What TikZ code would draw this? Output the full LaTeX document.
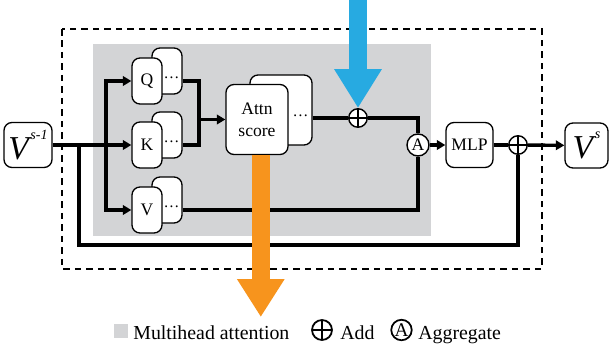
\documentclass[tikz,border=0pt]{standalone}
\usepackage{fontspec}
\setmainfont{Liberation Serif}
\usetikzlibrary{arrows.meta,positioning,calc}
\definecolor{headGray}{RGB}{211,212,214}
\definecolor{featBlue}{RGB}{39,170,225}
\definecolor{featOrange}{RGB}{247,148,29}
\newcommand{\featV}[1]{{\fontsize{19}{19}\selectfont\itshape V}\kern1pt\raisebox{11.5pt}{\fontsize{8}{8}\selectfont\itshape #1}}

\begin{document}
\begin{tikzpicture}[
    x=0.02cm, y=-0.02cm,
    box/.style={draw=black, fill=white, rounded corners=0.16cm, line width=0.75pt, align=center,
                inner sep=0pt, font=\fontsize{10}{12.5}\selectfont},
    head/.style={box, minimum width=0.6cm, minimum height=0.92cm},
    score/.style={box, minimum width=1.24cm, minimum height=1.4cm},
    io/.style={box, minimum width=0.94cm, minimum height=0.9cm},
    dots/.style={inner sep=0pt, font=\fontsize{9}{10}\selectfont},
    wire/.style={line width=0.068cm},
    flow/.style={wire, -{Triangle[length=0.17cm, width=0.19cm]}},
    addop/.style={circle, draw=black, fill=white, line width=0.8pt, minimum size=0.37cm, inner sep=0pt,
        path picture={\draw[line width=0.8pt] (path picture bounding box.north) -- (path picture bounding box.south)
                      (path picture bounding box.west) -- (path picture bounding box.east);}},
    aggop/.style={circle, draw=black, fill=white, line width=0.8pt, minimum size=0.44cm, inner sep=0pt,
                  font=\fontsize{10}{12}\selectfont},
    frame/.style={line width=0.75pt, dash pattern=on 0.13cm off 0.1cm},
    key/.style={anchor=base west, inner sep=0pt, font=\fontsize{11.3}{13}\selectfont},
    feed/.style={line width=0.36cm, -{Triangle[length=0.78cm, width=0.9cm]}},
]
\useasboundingbox (0,0) rectangle (610,352);

% block outline and multihead area
\draw[frame] (62,29) rectangle (542,269);
\fill[headGray] (93,44) rectangle (431,236);

% input / output
\node[io, minimum width=0.96cm] (vin) at (28,145) {\featV{s-1}};
\node[io, minimum width=0.86cm] (vout) at (586.5,145.5) {\featV{s}};

% Q, K, V heads (stacked)
\node[head] (qb) at (167,71) {};
\node[head] (qf) at (147,81) {Q};
\node[dots] (qdots) at (171.5,78) {…};
\node[head] (kb) at (167,135) {};
\node[head] (kf) at (147,145) {K};
\node[dots] (kdots) at (171.5,142) {…};
\node[head] (vb) at (167,200) {};
\node[head] (vf) at (147,210) {V};
\node[dots] (vdots) at (171.5,207) {…};

% attention score (stacked)
\node[score] (attnb) at (281,110) {};
\node[score] (attnf) at (257,119.5) {Attn\\score};
\node[dots] (attndots) at (300.5,116) {…};

% operators and MLP
\node[addop] (addatt) at (358,118) {};
\node[aggop] (agg) at (418,145) {A};
\node[io] (mlp) at (469.5,145) {MLP};
\node[addop] (addres) at (518,145) {};

% input fan-out
\coordinate (fork) at (106,145);
\coordinate (skip) at (79,145);
\coordinate (skipend) at (79,245);
\draw[flow] (vin) -- (kf);
\draw[flow] (fork) |- (qf);
\draw[flow] (fork) |- (vf);
\draw[wire] (skip) -- (skipend) -| (addres);

% Q, K into score
\coordinate (merge) at (199,119.5);
\draw[wire] (qb.east |- qf) -| (merge) |- (kb.east |- kf);
\draw[flow] (merge) -- (attnf.west);

% score, V into aggregate
\draw[wire] (attnb.east |- addatt) -- (addatt);
\draw[wire] (addatt) -| (agg);
\draw[wire] (vb.east |- vf) -| (agg);
\draw[flow] (agg) -- (mlp);
\draw[wire] (mlp) -- (addres);
\draw[flow] (addres) -- (vout);

% external feeds
\coordinate (cond) at (358,0);
\coordinate (sink) at (260.8,317);
\draw[feed, featBlue] (cond) -- (addatt.north);
\draw[feed, featOrange, -{Triangle[length=0.76cm, width=0.9cm]}] (sink |- attnf.south) -- (sink);

% legend
\node[fill=headGray, minimum size=0.28cm, inner sep=0pt] (keyhead) at (121,331) {};
\node[key] (keyheadtxt) at (133,339) {Multihead attention};
\node[addop, minimum size=0.4cm, line width=1pt] (keyadd) at (322,330) {};
\node[key] (keyaddtxt) at (340,339) {Add};
\node[aggop, minimum size=0.41cm, line width=1pt, font=\fontsize{11}{12}\selectfont] (keyagg) at (401.5,330) {A};
\node[key] (keyaggtxt) at (418,339) {Aggregate};
\end{tikzpicture}
\end{document}
